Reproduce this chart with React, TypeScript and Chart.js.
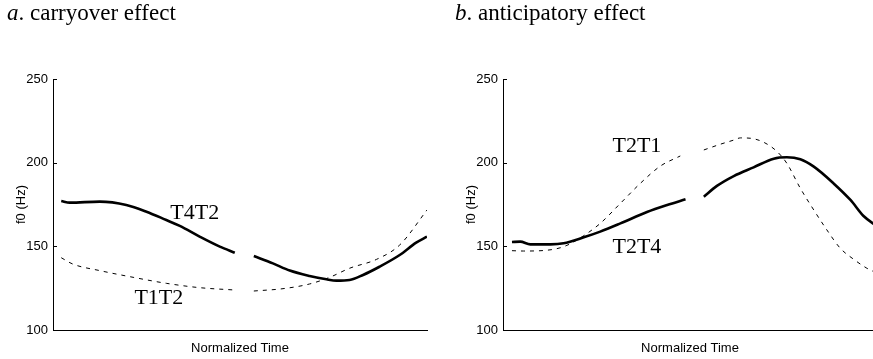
import React, { useEffect, useRef } from "react";
import { Chart, registerables } from "chart.js";
Chart.register(...registerables);

// ---------- data ----------
const yTickValues = [100, 150, 200, 250];

// Panel a: carryover effect
const t4t2X = [0.022, 0.045, 0.125, 0.196, 0.25, 0.303, 0.339, 0.392, 0.446, 0.486, 0.51, 0.537, 0.588, 0.633, 0.686, 0.731, 0.758, 0.793, 0.829, 0.873, 0.927, 0.971, 1.0];
const t4t2Y = [177.1, 176.1, 176.7, 174.7, 170.7, 165.7, 162.2, 155.8, 149.8, 146.2, null, 144.2, 139.8, 135.5, 132.3, 130.3, 129.5, 129.9, 132.9, 137.8, 144.8, 152.2, 155.8];
const t1t2X = [0.022, 0.053, 0.125, 0.214, 0.303, 0.392, 0.486, 0.51, 0.537, 0.615, 0.686, 0.74, 0.793, 0.865, 0.927, 1.0];
const t1t2Y = [143.2, 139.4, 135.5, 131.5, 127.9, 125.3, 123.9, null, 123.3, 124.7, 127.5, 131.5, 136.9, 142.2, 150.8, 171.7];

// Panel b: anticipatory effect
const t2t4X = [0.024, 0.046, 0.073, 0.127, 0.162, 0.216, 0.26, 0.314, 0.385, 0.439, 0.488, 0.51, 0.537, 0.572, 0.617, 0.67, 0.724, 0.759, 0.795, 0.831, 0.884, 0.929, 0.964, 1.0];
const t2t4Y = [152.6, 152.8, 151.2, 151.2, 151.8, 155.4, 158.8, 163.7, 170.5, 174.7, 178.1, null, 179.7, 186.1, 192.0, 197.2, 202.4, 203.2, 202.0, 197.6, 187.6, 177.7, 168.1, 162.0];
const t2t1X = [0.024, 0.055, 0.135, 0.171, 0.216, 0.26, 0.314, 0.367, 0.421, 0.474, 0.505, 0.537, 0.581, 0.617, 0.635, 0.661, 0.697, 0.733, 0.759, 0.795, 0.831, 0.866, 0.902, 0.938, 0.973, 1.0];
const t2t1Y = [147.4, 147.2, 148.2, 150.6, 156.4, 163.7, 175.7, 187.6, 198.0, 204.0, null, 207.6, 211.0, 213.5, 214.8, 214.6, 212.2, 206.6, 199.6, 184.7, 171.7, 159.8, 148.8, 142.2, 136.9, 134.0];

// in-plot labels: text, x (normalized time), y (Hz)
const labelsA = [
  { text: "T4T2", x: 0.379, y: 169.7 },
  { text: "T1T2", x: 0.283, y: 118.9 },
];
const labelsB = [
  { text: "T2T1", x: 0.358, y: 209.6 },
  { text: "T2T4", x: 0.358, y: 149.4 },
];

const toPts = (xs: number[], ys: (number | null)[]) => xs.map((x, i) => ({ x, y: ys[i] }));

const overlayPlugin = {
  id: "overlay",
  afterDraw(chart: any, _args: any, opts: any) {
    const { ctx, scales } = chart;
    const x = scales.x;
    const y = scales.y;
    ctx.save();
    ctx.strokeStyle = "#000";
    ctx.lineWidth = 1;
    for (const t of yTickValues) {
      const py = Math.round(y.getPixelForValue(t)) + 0.5;
      ctx.beginPath();
      ctx.moveTo(x.left, py);
      ctx.lineTo(x.left + 4, py);
      ctx.stroke();
    }
    ctx.font = '22px "Liberation Serif"';
    ctx.textAlign = "center";
    ctx.textBaseline = "middle";
    ctx.fillStyle = "#000";
    for (const l of opts.labels || []) {
      ctx.fillText(l.text, x.getPixelForValue(l.x), y.getPixelForValue(l.y));
    }
    ctx.restore();
  },
};

function Panel({ left, solid, dashed, labels }: any) {
  const ref = useRef<HTMLCanvasElement>(null);
  useEffect(() => {
    const sans = '"Liberation Sans", Arial, sans-serif';
    const chart = new Chart(ref.current!, {
      type: "line",
      data: {
        datasets: [
          {
            data: dashed,
            borderColor: "#000",
            borderWidth: 1,
            borderDash: [4, 5],
            pointRadius: 0,
            cubicInterpolationMode: "monotone",
            spanGaps: false,
          },
          {
            data: solid,
            borderColor: "#000",
            borderWidth: 2.6,
            pointRadius: 0,
            cubicInterpolationMode: "monotone",
            spanGaps: false,
          },
        ],
      } as any,
      options: {
        responsive: false,
        animation: false,
        devicePixelRatio: 1,
        layout: { padding: { top: 79, right: 13, left: 0, bottom: 0 } },
        plugins: {
          legend: { display: false },
          tooltip: { enabled: false },
          overlay: { labels },
        } as any,
        scales: {
          x: {
            type: "linear",
            min: 0,
            max: 1,
            grid: { display: false, drawTicks: false },
            border: { display: true, color: "#000", width: 1 },
            ticks: { display: false },
            title: {
              display: true,
              text: "Normalized Time",
              color: "#000",
              font: { family: sans, size: 13 },
              padding: { top: 0, bottom: 3 },
            },
            afterFit(s: any) {
              s.height = 29;
            },
          },
          y: {
            min: 100,
            max: 250,
            grid: { display: false, drawTicks: false },
            border: { display: true, color: "#000", width: 1 },
            ticks: {
              stepSize: 50,
              color: "#000",
              padding: 5,
              font: { family: sans, size: 13 },
            },
            title: {
              display: true,
              text: "f0 (Hz)",
              color: "#000",
              font: { family: sans, size: 13 },
              padding: { top: 14, bottom: 0 },
            },
            afterFit(s: any) {
              s.width = 53;
            },
          },
        },
      } as any,
      plugins: [overlayPlugin],
    });
    return () => chart.destroy();
  }, []);
  return (
    <canvas
      ref={ref}
      width={440}
      height={359}
      style={{ position: "absolute", left, top: 0, width: 440, height: 359 }}
    />
  );
}

const titleStyle: React.CSSProperties = {
  position: "absolute",
  top: 1,
  fontFamily: '"Liberation Serif", "Times New Roman", serif',
  fontSize: 23,
  lineHeight: "23px",
  color: "#000",
  whiteSpace: "nowrap",
};

export default function App() {
  return (
    <div
      style={{
        position: "absolute",
        left: 0,
        top: 0,
        width: 873,
        height: 359,
        overflow: "hidden",
        background: "#fff",
      }}
    >
      <Panel left={0} solid={toPts(t4t2X, t4t2Y)} dashed={toPts(t1t2X, t1t2Y)} labels={labelsA} />
      <Panel left={450} solid={toPts(t2t4X, t2t4Y)} dashed={toPts(t2t1X, t2t1Y)} labels={labelsB} />
      <div style={{ ...titleStyle, left: 7 }}>
        <i>a</i>. carryover effect
      </div>
      <div style={{ ...titleStyle, left: 455 }}>
        <i>b</i>. anticipatory effect
      </div>
    </div>
  );
}
